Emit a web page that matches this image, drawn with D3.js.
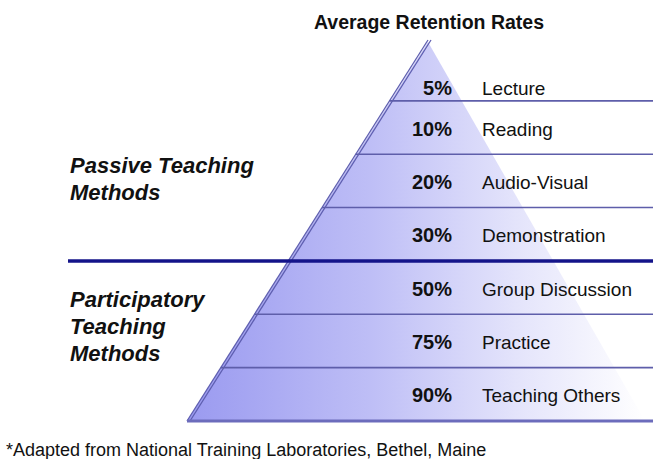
<!DOCTYPE html>
<html>
<head>
<meta charset="utf-8">
<script src="https://d3js.org/d3.v7.min.js"></script>
<style>
  body { margin: 0; background: #fff; }
  text { font-family: "Liberation Sans", Arial, sans-serif; fill: #111; }
</style>
</head>
<body>
<div id="chart"></div>
<script>
// retention pyramid data
const rates = [5, 10, 20, 30, 50, 75, 90];
const methods = ["Lecture", "Reading", "Audio-Visual", "Demonstration",
                 "Group Discussion", "Practice", "Teaching Others"];
const passiveCount = 4; // first four methods are passive
const passiveLabel = ["Passive Teaching", "Methods"];
const participatoryLabel = ["Participatory", "Teaching", "Methods"];
const title = "Average Retention Rates";
const footnote = "*Adapted from National Training Laboratories, Bethel, Maine";

const width = 653, height = 459;

const svg = d3.select("#chart").append("svg")
  .attr("width", width)
  .attr("height", height);

// row boundaries
const y = d3.scaleLinear().domain([0, rates.length]).range([47.5, 421]);
const apexY = 40;
// left edge of the pyramid as a function of y
const xLeft = d3.scaleLinear().domain([apexY, y(rates.length)]).range([428, 187]);
const xRight = d3.scaleLinear().domain([apexY, y(rates.length)]).range([428, 645]);

const defs = svg.append("defs");
const grad = defs.append("linearGradient")
  .attr("id", "fade")
  .attr("x1", "0").attr("y1", "0").attr("x2", "1").attr("y2", "0");
grad.append("stop").attr("offset", "0").attr("stop-color", "#9a9af0");
grad.append("stop").attr("offset", "0.4").attr("stop-color", "#bebef6");
grad.append("stop").attr("offset", "0.72").attr("stop-color", "#e4e4fb");
grad.append("stop").attr("offset", "1").attr("stop-color", "#ffffff");

const bottom = y(rates.length);

// pyramid body
svg.append("path")
  .attr("d", d3.line()([
    [xLeft(apexY), apexY + 2],
    [xRight(bottom), bottom],
    [xLeft(bottom), bottom]
  ]) + "Z")
  .attr("fill", "url(#fade)");

// double left edge
[0, 3].forEach(function(off) {
  svg.append("line")
    .attr("x1", xLeft(apexY) + off).attr("y1", apexY)
    .attr("x2", xLeft(bottom) + off).attr("y2", bottom)
    .attr("stroke", "#5e5eb0")
    .attr("stroke-width", 1.3);
});

// row divider lines
const dividers = d3.range(1, rates.length).filter(function(i) { return i !== passiveCount; });
svg.selectAll(".divider")
  .data(dividers)
  .enter().append("line")
    .attr("class", "divider")
    .attr("x1", function(i) { return xLeft(y(i)); })
    .attr("x2", width)
    .attr("y1", function(i) { return y(i); })
    .attr("y2", function(i) { return y(i); })
    .attr("stroke", "#5e5eaa")
    .attr("stroke-width", 1.6);

// base line
svg.append("line")
  .attr("x1", xLeft(bottom)).attr("x2", width)
  .attr("y1", bottom).attr("y2", bottom)
  .attr("stroke", "#6c6cbc")
  .attr("stroke-width", 3);

// passive / participatory separator
svg.append("line")
  .attr("x1", 68).attr("x2", width)
  .attr("y1", y(passiveCount)).attr("y2", y(passiveCount))
  .attr("stroke", "#14148a")
  .attr("stroke-width", 3.5);

// row labels
function rowBase(i) {
  return i === 0 ? y(1) - 6 : y(i + 0.5) + 8;
}

svg.selectAll(".rate")
  .data(rates)
  .enter().append("text")
    .attr("class", "rate")
    .attr("x", 452)
    .attr("y", function(d, i) { return rowBase(i); })
    .attr("text-anchor", "end")
    .style("font-size", "20px")
    .style("font-weight", "bold")
    .text(function(d) { return d + "%"; });

svg.selectAll(".method")
  .data(methods)
  .enter().append("text")
    .attr("class", "method")
    .attr("x", 482)
    .attr("y", function(d, i) { return rowBase(i); })
    .style("font-size", "19px")
    .text(function(d) { return d; });

// title
svg.append("text")
  .attr("x", 429)
  .attr("y", 29)
  .attr("text-anchor", "middle")
  .style("font-size", "19.5px")
  .style("font-weight", "bold")
  .text(title);

// group labels
function groupLabel(lines, top) {
  svg.append("g").selectAll("text")
    .data(lines)
    .enter().append("text")
      .attr("x", 70)
      .attr("y", function(d, i) { return top + i * 27; })
      .style("font-size", "22px")
      .style("font-weight", "bold")
      .style("font-style", "italic")
      .text(function(d) { return d; });
}
groupLabel(passiveLabel, 173);
groupLabel(participatoryLabel, 307);

// footnote
svg.append("text")
  .attr("x", 6)
  .attr("y", 456)
  .style("font-size", "18px")
  .text(footnote);
</script>
</body>
</html>
